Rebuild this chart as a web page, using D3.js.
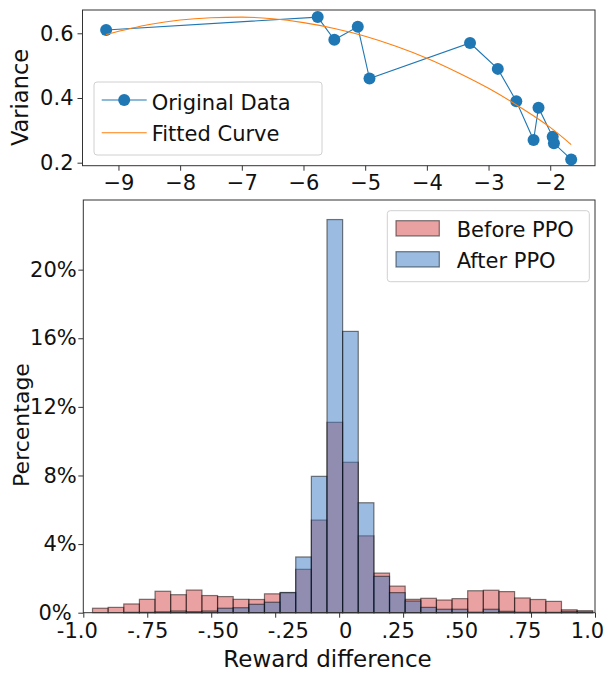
<!DOCTYPE html>
<html><head><meta charset="utf-8">
<script src="https://cdn.jsdelivr.net/npm/d3@7"></script>
<style>
body{margin:0;background:#fff;}
svg{display:block;font-family:"DejaVu Sans",sans-serif;}
</style></head>
<body><svg id="c" width="605" height="673"></svg>
<script>
// ---- Top chart data ----
const origX = [-9.2, -5.77, -5.5, -5.12, -4.93, -3.3, -2.85, -2.55, -2.27, -2.19, -1.96, -1.94, -1.66];
const origY = [0.61, 0.65, 0.58, 0.62, 0.46, 0.57, 0.49, 0.39, 0.27, 0.37, 0.28, 0.26, 0.21];
const fitX = [-9.2, -8.5, -8, -7.5, -7, -6.5, -6, -5.5, -5, -4.5, -4, -3.5, -3, -2.5, -2, -1.66];
const fitY = [0.596, 0.627, 0.641, 0.648, 0.650, 0.645, 0.633, 0.615, 0.591, 0.560, 0.523, 0.479, 0.430, 0.373, 0.309, 0.256];
const topXTicks = [-9, -8, -7, -6, -5, -4, -3, -2];
const topYTicks = [0.2, 0.4, 0.6];

// ---- Histogram data ----
const binLo = -0.964, binWidth = 0.0611, binCount = 32;
const beforePPO = [0.26, 0.31, 0.51, 0.78, 1.25, 1.05, 1.32, 1.0, 0.94, 0.78, 0.77, 1.1, 1.16, 2.53, 5.4, 11.1,
                   8.77, 4.48, 2.31, 1.55, 0.78, 0.84, 0.74, 0.82, 1.28, 1.31, 1.23, 0.86, 0.77, 0.66, 0.17, 0.12];
const afterPPO  = [0.0, 0.0, 0.02, 0.02, 0.05, 0.1, 0.06, 0.1, 0.26, 0.29, 0.49, 0.61, 1.18, 3.25, 7.95, 22.92,
                   16.4, 6.41, 2.12, 1.17, 0.68, 0.31, 0.2, 0.2, 0.03, 0.2, 0.08, 0.03, 0.02, 0.02, 0.08, 0.05];
const histXTicks = [-1.0, -0.75, -0.5, -0.25, 0, 0.25, 0.5, 0.75, 1.0];
const histXTickLabels = ["-1.0", "-.75", "-.50", "-.25", "0", ".25", ".50", ".75", "1.0"];
const histYTicks = [0, 4, 8, 12, 16, 20];
const seriesNames = ["Before PPO", "After PPO"];

// label nudges observed in the reference (layout only)
const histXLabelDx = [-6.5, 0, 6.6, 12.6, 6, -5.5, -6.2, -6.8, -8];
const histYLabelDx = [-5, 0, 0, 0, 0, 0];

const svg = d3.select("#c");
const FS = 21;
const axisCol = "#333";

// ================= TOP CHART =================
const T = {l: 82.5, r: 595, t: 10, b: 165.7};
const tx = d3.scaleLinear().domain([-9.583, -1.274]).range([T.l, T.r]);
const ty = d3.scaleLinear().domain([0.1907, 0.672]).range([T.b, T.t]);
const gt = svg.append("g");

const lineGen = d3.line().x(d => tx(d[0])).y(d => ty(d[1]));
gt.append("path").datum(origX.map((x, i) => [x, origY[i]]))
  .attr("d", lineGen).attr("fill", "none").attr("stroke", "#1f77b4").attr("stroke-width", 1.1);
gt.selectAll("circle.pt").data(origX.map((x, i) => [x, origY[i]])).enter().append("circle")
  .attr("cx", d => tx(d[0])).attr("cy", d => ty(d[1])).attr("r", 6).attr("fill", "#1f77b4");
gt.append("path").datum(fitX.map((x, i) => [x, fitY[i]]))
  .attr("d", lineGen.curve(d3.curveMonotoneX)).attr("fill", "none").attr("stroke", "#ff7f0e").attr("stroke-width", 1.1);

// axes top
const xAxT = d3.axisBottom(tx).tickValues(topXTicks).tickSize(5).tickPadding(4).tickFormat(d => "\u2212" + Math.abs(d));
const gxT = gt.append("g").attr("transform", `translate(0,${T.b})`).call(xAxT);
const yAxT = d3.axisLeft(ty).tickValues(topYTicks).tickSize(5).tickPadding(4).tickFormat(d3.format(".1f"));
const gyT = gt.append("g").attr("transform", `translate(${T.l},0)`).call(yAxT);
[gxT, gyT].forEach(g => {
  g.select(".domain").remove();
  g.selectAll(".tick line").attr("stroke", axisCol).attr("stroke-width", 1);
  g.selectAll(".tick text").attr("font-size", FS).attr("fill", "#111").attr("font-family", "DejaVu Sans");
});
gt.append("rect").attr("x", T.l).attr("y", T.t).attr("width", T.r - T.l).attr("height", T.b - T.t)
  .attr("fill", "none").attr("stroke", axisCol).attr("stroke-width", 1);
gt.append("text").attr("transform", "translate(28,97.5) rotate(-90)").attr("text-anchor", "middle")
  .attr("font-size", 22.5).attr("fill", "#111").text("Variance");

// top legend
const lg = gt.append("g");
lg.append("rect").attr("x", 94).attr("y", 82).attr("width", 228).attr("height", 73).attr("rx", 3)
  .attr("fill", "#fff").attr("fill-opacity", 0.8).attr("stroke", "#d0d0d0");
lg.append("line").attr("x1", 101.7).attr("x2", 146.7).attr("y1", 100).attr("y2", 100).attr("stroke", "#1f77b4").attr("stroke-width", 1.1);
lg.append("circle").attr("cx", 124.2).attr("cy", 100).attr("r", 6).attr("fill", "#1f77b4");
lg.append("line").attr("x1", 101.7).attr("x2", 146.7).attr("y1", 132.7).attr("y2", 132.7).attr("stroke", "#ff7f0e").attr("stroke-width", 1.1);
lg.append("text").attr("x", 151.7).attr("y", 110).attr("font-size", FS).attr("fill", "#111").text("Original Data");
lg.append("text").attr("x", 151.7).attr("y", 140.5).attr("font-size", FS).attr("fill", "#111").text("Fitted Curve");

// ================= HISTOGRAM =================
const H = {l: 83.3, r: 595, t: 200, b: 612.7};
const hx = d3.scaleLinear().domain([-1, 1]).range([H.l, H.r]);
const hy = d3.scaleLinear().domain([0, 24.06]).range([H.b, H.t]);
const gh = svg.append("g");
const edges = d3.range(binCount + 1).map(k => binLo + k * binWidth);

const styles = [
  {fill: "#d34444", data: beforePPO},
  {fill: "#3779c1", data: afterPPO}
];
styles.forEach(s => {
  gh.append("g").selectAll("rect").data(s.data).enter().append("rect")
    .attr("x", (d, i) => hx(edges[i]))
    .attr("width", (d, i) => hx(edges[i + 1]) - hx(edges[i]))
    .attr("y", d => hy(d))
    .attr("height", d => hy(0) - hy(d))
    .attr("fill", s.fill).attr("fill-opacity", 0.5)
    .attr("stroke", "#000").attr("stroke-opacity", 0.5).attr("stroke-width", 1.2);
});

const xAxH = d3.axisBottom(hx).tickValues(histXTicks).tickSize(5).tickPadding(5)
  .tickFormat((d, i) => histXTickLabels[i]);
const gxH = gh.append("g").attr("transform", `translate(0,${H.b})`).call(xAxH);
const yAxH = d3.axisLeft(hy).tickValues(histYTicks).tickSize(5).tickPadding(1.6).tickFormat(d => d + "%");
const gyH = gh.append("g").attr("transform", `translate(${H.l},0)`).call(yAxH);
[gxH, gyH].forEach(g => {
  g.select(".domain").remove();
  g.selectAll(".tick line").attr("stroke", axisCol).attr("stroke-width", 1);
  g.selectAll(".tick text").attr("font-size", FS).attr("fill", "#111").attr("font-family", "DejaVu Sans");
});
gxH.selectAll(".tick text").attr("dx", (d, i) => histXLabelDx[i]);
gyH.selectAll(".tick text").attr("dx", (d, i) => histYLabelDx[i]);
gh.append("rect").attr("x", H.l).attr("y", H.t).attr("width", H.r - H.l).attr("height", H.b - H.t)
  .attr("fill", "none").attr("stroke", axisCol).attr("stroke-width", 1);
gh.append("text").attr("x", 327.5).attr("y", 667).attr("text-anchor", "middle")
  .attr("font-size", 23).attr("fill", "#111").text("Reward difference");
gh.append("text").attr("transform", "translate(29,425) rotate(-90)").attr("text-anchor", "middle")
  .attr("font-size", 22).attr("fill", "#111").text("Percentage");

// histogram legend
const hl = gh.append("g");
hl.append("rect").attr("x", 387.3).attr("y", 210.7).attr("width", 202).attr("height", 71).attr("rx", 3)
  .attr("fill", "#fff").attr("fill-opacity", 0.8).attr("stroke", "#d0d0d0");
styles.forEach((s, i) => {
  const y0 = 220.7 + i * 31;
  hl.append("rect").attr("x", 396).attr("y", y0).attr("width", 43.3).attr("height", 15.3)
    .attr("fill", s.fill).attr("fill-opacity", 0.5)
    .attr("stroke", "#000").attr("stroke-opacity", 0.5).attr("stroke-width", 1.2);
  hl.append("text").attr("x", 456.7).attr("y", y0 + 16).attr("font-size", FS).attr("fill", "#111").text(seriesNames[i]);
});
</script></body></html>
